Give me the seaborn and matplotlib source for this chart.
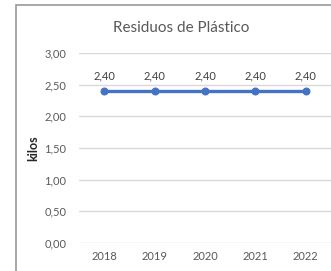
import matplotlib
matplotlib.use("Agg")
import matplotlib.pyplot as plt
import seaborn as sns
import pandas as pd
from matplotlib.patches import Rectangle

# Chart data
years = ["2018", "2019", "2020", "2021", "2022"]
kilos = [2.40, 2.40, 2.40, 2.40, 2.40]
y_ticks = [0.0, 0.5, 1.0, 1.5, 2.0, 2.5, 3.0]

LINE_COLOR = "#4472C4"
TEXT_COLOR = "#595959"
GRID_COLOR = "#D9D9D9"


def fmt(v):
    return f"{v:.2f}".replace(".", ",")


def create_chart():
    sns.set_theme(style="white")
    plt.rcParams["font.family"] = ["Lato", "DejaVu Sans"]

    df = pd.DataFrame({"year": years, "kilos": kilos})

    fig = plt.figure(figsize=(3.31, 2.71), dpi=100)
    ax = fig.add_axes([79 / 331, 28 / 271, 252 / 331, 190 / 271])

    # outer chart frame (right and bottom edges run off the image)
    fig.patches.append(Rectangle((16 / 331, -0.1), 1.2, (271 - 5) / 271 + 0.1,
                                 transform=fig.transFigure, fill=False,
                                 edgecolor="#999999", linewidth=1.2))

    sns.lineplot(data=df, x="year", y="kilos", ax=ax, color=LINE_COLOR,
                 linewidth=2.4, marker="o", markersize=5,
                 markeredgecolor=LINE_COLOR, sort=False)

    for i, v in enumerate(kilos):
        ax.annotate(fmt(v), (i, v), xytext=(0, 15), textcoords="offset pixels",
                    ha="center", va="center", fontsize=8, color="#404040")

    ax.set_xlim(-0.5, len(years) - 0.5)
    ax.set_ylim(0, 3.0)
    ax.set_yticks(y_ticks)
    ax.set_yticklabels([fmt(t) for t in y_ticks])
    ax.grid(axis="y", color=GRID_COLOR, linewidth=1)
    ax.set_axisbelow(True)
    for s in ax.spines.values():
        s.set_visible(False)
    ax.tick_params(axis="both", length=0, labelsize=8, labelcolor=TEXT_COLOR)
    ax.tick_params(axis="y", pad=9)
    ax.tick_params(axis="x", pad=6)
    ax.set_xlabel("")
    ax.set_ylabel("kilos", fontsize=9, fontweight="bold", color="#262626")
    ax.yaxis.label.set_va("center")
    ax.yaxis.set_label_coords(-0.18, 0.5)

    fig.text(181 / 331, (271 - 28) / 271, "Residuos de Plástico",
             ha="center", va="center", fontsize=11, color=TEXT_COLOR)

    fig.savefig("out.png", dpi=100)
    plt.close(fig)


if __name__ == "__main__":
    create_chart()
